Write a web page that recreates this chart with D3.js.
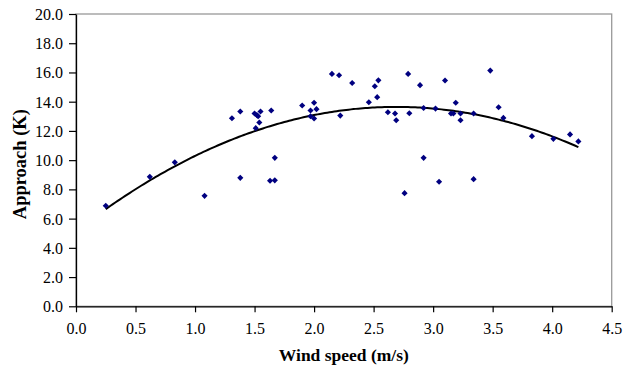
<!DOCTYPE html>
<html>
<head>
<meta charset="utf-8">
<script src="https://cdn.jsdelivr.net/npm/d3@7"></script>
<style>
  html, body { margin: 0; padding: 0; background: #ffffff; }
  svg { display: block; }
</style>
</head>
<body>
<svg id="chart" width="637" height="370"></svg>
<script>
// ---- Data ----
const windSpeed = [0.25, 0.62, 0.83, 1.08, 1.31, 1.38, 1.38, 1.50, 1.52, 1.53, 1.55, 1.54, 1.51, 1.64, 1.67, 1.63, 1.67,
  1.90, 1.97, 1.97, 2.00, 2.02, 2.00, 2.15, 2.21, 2.32, 2.22, 2.46, 2.51, 2.53, 2.54, 2.62, 2.68, 2.69, 2.79, 2.80,
  2.89, 2.92, 2.92, 2.76, 3.02, 3.05, 3.10, 3.15, 3.17, 3.19, 3.23, 3.23, 3.34, 3.34, 3.48, 3.55, 3.59, 3.83, 4.01,
  4.15, 4.22];
const approach = [6.88, 8.86, 9.85, 7.56, 12.87, 13.33, 8.79, 13.19, 13.08, 13.00, 13.33, 12.58, 12.19, 13.40, 10.16, 8.59, 8.62,
  13.74, 13.40, 13.00, 13.93, 13.49, 12.85, 15.90, 15.81, 15.28, 13.05, 13.96, 15.06, 14.31, 15.46, 13.28, 13.19, 12.73, 15.90, 13.21,
  15.13, 13.57, 10.16, 7.74, 13.53, 8.52, 15.45, 13.19, 13.19, 13.93, 13.19, 12.73, 13.19, 8.70, 16.13, 13.62, 12.89, 11.64, 11.46,
  11.76, 11.28];
// polynomial (order 2) trendline coefficients: c0 + c1*x + c2*x^2, and its x-extent
const trendCoef = [5.143, 6.321, -1.175];
const trendRange = [0.25, 4.22];
const xTicks = [0, 0.5, 1.0, 1.5, 2.0, 2.5, 3.0, 3.5, 4.0, 4.5];
const yTicks = [0, 2, 4, 6, 8, 10, 12, 14, 16, 18, 20];
const xTitle = "Wind speed (m/s)";
const yTitle = "Approach (K)";

// ---- Layout ----
const W = 637, H = 370;
const margin = { left: 76, right: 25.3, top: 14, bottom: 63.7 };
const svg = d3.select("#chart");
const x = d3.scaleLinear().domain([0, 4.5]).range([margin.left, W - margin.right]);
const y = d3.scaleLinear().domain([0, 20]).range([H - margin.bottom, margin.top]);

// plot-area border (gray top/right)
svg.append("rect")
  .attr("x", x(0)).attr("y", y(20))
  .attr("width", x(4.5) - x(0)).attr("height", y(0) - y(20))
  .attr("fill", "none").attr("stroke", "#999999").attr("stroke-width", 1.3);

const fmt = d3.format(".1f");
const serif = "'Liberation Serif', 'Times New Roman', serif";

// x axis
const xAxis = svg.append("g")
  .attr("transform", `translate(0,${y(0)})`)
  .call(d3.axisBottom(x).tickValues(xTicks).tickFormat(fmt).tickSize(6).tickPadding(8).tickSizeOuter(0));
// y axis
const yAxis = svg.append("g")
  .attr("transform", `translate(${x(0)},0)`)
  .call(d3.axisLeft(y).tickValues(yTicks).tickFormat(fmt).tickSize(7).tickPadding(6).tickSizeOuter(0));

[xAxis, yAxis].forEach(g => {
  g.select(".domain").attr("stroke", "#000").attr("stroke-width", 1.3);
  g.selectAll(".tick line").attr("stroke", "#000").attr("stroke-width", 1.2);
  g.selectAll(".tick text")
    .attr("fill", "#000")
    .style("font-family", serif)
    .style("font-size", "16px");
});
xAxis.selectAll(".tick text").attr("dy", "0.85em");
yAxis.selectAll(".tick text").attr("dy", "0.34em");

// trendline
const trendX = d3.range(trendRange[0], trendRange[1] + 1e-9, 0.02).concat([trendRange[1]]);
const trendPts = trendX.map(v => [v, trendCoef[0] + trendCoef[1] * v + trendCoef[2] * v * v]);
svg.append("path")
  .datum(trendPts)
  .attr("fill", "none")
  .attr("stroke", "#000")
  .attr("stroke-width", 2)
  .attr("d", d3.line().x(d => x(d[0])).y(d => y(d[1])));

// points
const pts = windSpeed.map((v, i) => ({ ws: v, ap: approach[i] }));
svg.append("g").selectAll("path")
  .data(pts)
  .join("path")
  .attr("transform", d => `translate(${x(d.ws)},${y(d.ap)})`)
  .attr("d", d3.symbol(d3.symbolDiamond2, 24))
  .attr("fill", "#000080");

// axis titles
svg.append("text")
  .attr("x", (x(0) + x(4.5)) / 2)
  .attr("y", 361)
  .attr("text-anchor", "middle")
  .style("font-family", serif)
  .style("font-weight", "bold")
  .style("font-size", "17.5px")
  .text(xTitle);

svg.append("text")
  .attr("transform", `translate(26,${(y(0) + y(20)) / 2 + 4}) rotate(-90)`)
  .attr("text-anchor", "middle")
  .style("font-family", serif)
  .style("font-weight", "bold")
  .style("font-size", "18.5px")
  .text(yTitle);
</script>
</body>
</html>
